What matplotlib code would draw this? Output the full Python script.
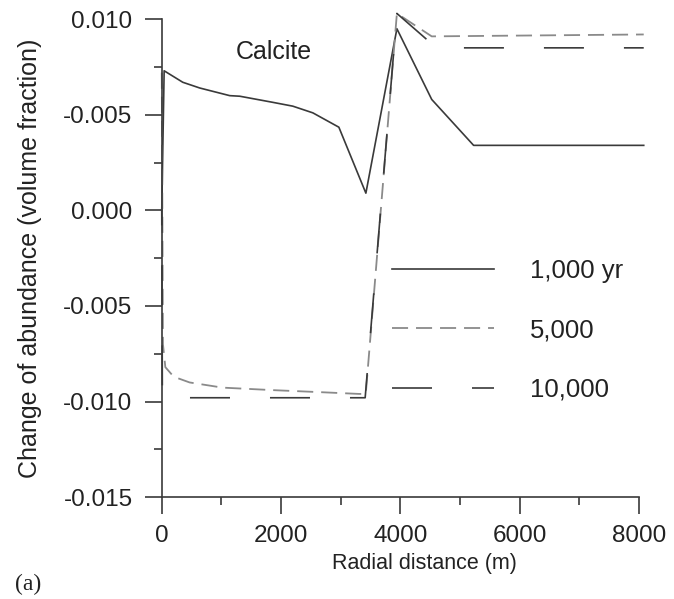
import numpy as np
import matplotlib
matplotlib.use("Agg")
from matplotlib import pyplot as plt
from matplotlib.lines import Line2D
from matplotlib.ticker import MultipleLocator, FixedLocator, FixedFormatter

plt.rcParams["font.family"] = ["Liberation Sans", "DejaVu Sans"]

# data (radial distance m, volume fraction change)
x_1000 = [0, 40, 352, 637, 1140, 1308, 1862, 2197, 2533, 2969, 3422, 3942, 4526, 5228, 8080]
y_1000 = [0.0, 0.0073, 0.0067, 0.0064, 0.0060, 0.00597, 0.00565, 0.00545, 0.0051, 0.00435,
          0.0009, 0.0095, 0.0058, 0.0034, 0.0034]

x_5000 = [0, 20, 60, 200, 467, 1017, 1850, 2600, 3307, 3420, 3942, 4526, 8080]
y_5000 = [0.0072, -0.0070, -0.0082, -0.0087, -0.0090, -0.00927, -0.0094, -0.0095, -0.0096,
          -0.0096, 0.0103, 0.0091, 0.0092]

x_10000 = [0, 10, 3410, 3942, 4530, 4700, 8080]
y_10000 = [0.0, -0.0098, -0.0098, 0.0103, 0.0087, 0.0085, 0.0085]

ytick_vals = [0.010, 0.005, 0.0, -0.005, -0.010, -0.015]
ytick_text = ["0.010", "-0.005", "0.000", "-0.005", "-0.010", "-0.015"]

dark = "#3a3a3a"
grey = "#8a8a8a"

fig = plt.figure(figsize=(6.74, 5.99), dpi=100)
ax = fig.add_axes([0.240, 0.170, 0.708, 0.798])

l1, = ax.plot(x_1000, y_1000, color=dark, lw=1.2, clip_on=False)
l2, = ax.plot(x_5000, y_5000, color=grey, lw=1.3, dashes=(8.9, 4.4), clip_on=False)
ax.plot(x_10000, y_10000, color=dark, lw=1.2, linestyle=(15, (24, 24)), clip_on=False)
# legend handle for 10,000 without the phase offset
l3 = Line2D([], [], color=dark, lw=1.2, dashes=(24, 24))

ax.set_xlim(0, 8000)
ax.set_ylim(-0.015, 0.010)
ax.xaxis.set_major_locator(MultipleLocator(2000))
ax.xaxis.set_minor_locator(MultipleLocator(1000))
ax.yaxis.set_major_locator(FixedLocator(ytick_vals))
ax.yaxis.set_major_formatter(FixedFormatter(ytick_text))
ax.yaxis.set_minor_locator(MultipleLocator(0.0025))

for s in ["top", "right"]:
    ax.spines[s].set_visible(False)
for s in ["left", "bottom"]:
    ax.spines[s].set_color(dark)
    ax.spines[s].set_linewidth(1.2)

ax.tick_params(which="major", length=12, width=1.2, color=dark, labelsize=17.5,
               labelcolor="#222222")
ax.tick_params(axis="y", which="major", pad=9)
ax.tick_params(axis="x", which="major", pad=8)
ax.tick_params(which="minor", length=6, width=1.2, color=dark)

ax.set_xlabel("Radial distance (m)", fontsize=15.5, color="#222222")
ax.xaxis.set_label_coords(0.551, -0.117)
ax.set_ylabel("Change of abundance (volume fraction)", fontsize=18, color="#222222")
ax.yaxis.set_label_coords(-0.252, 0.5)

ax.text(1878, 0.00827, "Calcite", fontsize=18, color="#222222", ha="center", va="center")

ax.legend([l1, l2, l3], ["1,000 yr", "5,000", "10,000"], loc="upper left",
          bbox_to_anchor=(0.482, 0.499), frameon=False, fontsize=18.5,
          handlelength=3.97, handletextpad=1.4, labelspacing=1.38,
          borderpad=0, borderaxespad=0, labelcolor="#222222")

fig.text(28 / 674, 1 - 584 / 599, "(a)", fontsize=17, family="Liberation Serif",
         ha="center", va="center", color="#222222")

fig.savefig("out.png", dpi=100)
